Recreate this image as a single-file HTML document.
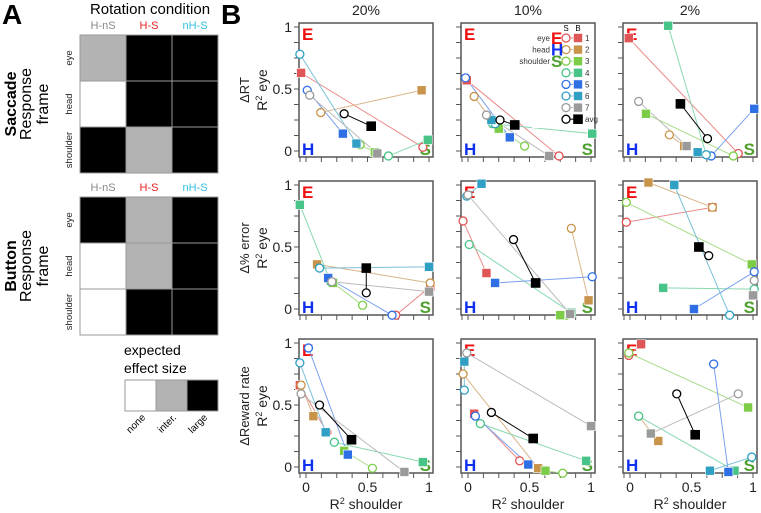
<!DOCTYPE html>
<html><head><meta charset="utf-8"><style>
html,body{margin:0;padding:0;background:#fff;}
svg{display:block;font-family:"Liberation Sans",Arial,sans-serif;}
</style></head><body>
<svg id="fig" width="761" height="513" viewBox="0 0 761 513">
<g>
<text x="2" y="24" font-size="28" font-weight="bold">A</text>
<text x="150" y="14" font-size="15" text-anchor="middle">Rotation condition</text>
<g id="gridA"></g>
<g>
<text x="124" y="355" font-size="14">expected</text>
<text x="124" y="373" font-size="14">effect size</text>
<rect x="125" y="380" width="31" height="31" fill="#fff" stroke="#999"/>
<rect x="156" y="380" width="31" height="31" fill="#b3b3b3" stroke="#999"/>
<rect x="187" y="380" width="31" height="31" fill="#000" stroke="#999"/>
<text transform="translate(146,418) rotate(-45)" font-size="10" text-anchor="end">none</text>
<text transform="translate(177,418) rotate(-45)" font-size="10" text-anchor="end">inter.</text>
<text transform="translate(208,418) rotate(-45)" font-size="10" text-anchor="end">large</text>
</g>
</g>
<g>
<text x="221" y="24" font-size="28" font-weight="bold">B</text>
<g id="plotsB"></g>
</g>
</svg>
<script>
// ---------- Panel A data ----------
const colHeaders = ["H-nS","H-S","nH-S"];
const rowHeaders = ["eye","head","shoulder"];
const saccadeEffect = [[1,2,2],[0,2,2],[2,1,2]];
const buttonEffect = [[2,1,2],[0,1,2],[0,2,2]];

// ---------- Panel B data (S = circle, B = square), subjects 1..7, avg ----------
const subjects = ["1","2","3","4","5","6","7","avg"];
const rt20_sx=[0.95,0.12,0.44,0.67,0.01,-0.05,0.03,0.31];
const rt20_sy=[0.03,0.31,0.05,-0.04,0.49,0.78,0.45,0.30];
const rt20_bx=[-0.04,0.94,0.56,0.99,0.30,0.41,0.58,0.53];
const rt20_by=[0.63,0.49,-0.01,0.09,0.14,0.06,-0.02,0.20];
const rt10_sx=[0.74,0.05,0.46,0.20,-0.02,0.22,0.15,0.26];
const rt10_sy=[-0.04,0.44,0.04,0.22,0.59,0.22,0.29,0.25];
const rt10_bx=[-0.01,0.21,0.25,1.01,0.34,0.19,0.66,0.38];
const rt10_by=[0.57,0.22,0.18,0.14,0.11,0.25,-0.04,0.21];
const rt2_sx=[0.88,0.32,0.84,0.62,0.66,0.62,0.07,0.63];
const rt2_sy=[-0.02,0.13,-0.04,-0.03,-0.04,-0.03,0.40,0.10];
const rt2_bx=[-0.01,0.44,0.13,0.31,1.01,0.55,0.46,0.41];
const rt2_by=[0.91,0.04,0.30,1.01,0.34,-0.01,0.04,0.38];
const er20_sx=[0.73,1.01,0.46,0.20,0.70,0.11,0.21,0.49];
const er20_sy=[-0.05,0.21,0.03,0.22,-0.05,0.33,0.22,0.13];
const er20_bx=[1.01,0.09,0.22,-0.05,0.18,1.00,1.00,0.49];
const er20_by=[0.18,0.36,0.21,0.84,0.25,0.34,0.14,0.33];
const er10_sx=[-0.04,0.84,0.80,0.01,1.01,-0.01,0.00,0.37];
const er10_sy=[0.71,0.65,-0.05,0.52,0.26,0.91,0.92,0.56];
const er10_bx=[0.15,0.98,0.75,0.84,0.22,0.11,0.83,0.55];
const er10_by=[0.29,0.07,-0.05,-0.03,0.21,1.01,-0.04,0.21];
const er2_sx=[-0.03,0.67,-0.03,1.01,1.01,0.81,1.01,0.64];
const er2_sy=[0.70,0.82,0.86,0.16,0.30,-0.05,0.23,0.43];
const er2_bx=[0.67,0.15,0.99,0.27,0.52,0.36,1.00,0.56];
const er2_by=[0.82,1.02,0.36,0.17,0.00,1.00,0.11,0.50];
const rw20_sx=[0.17,-0.04,0.54,0.23,0.02,-0.05,-0.04,0.11];
const rw20_sy=[0.28,0.66,-0.01,0.20,0.96,0.84,0.59,0.50];
const rw20_bx=[-0.05,0.06,0.31,0.95,0.34,0.16,0.80,0.37];
const rw20_by=[0.66,0.41,0.13,0.04,0.10,0.28,-0.04,0.22];
const rw10_sx=[0.42,-0.04,0.77,0.10,0.06,-0.03,-0.01,0.19];
const rw10_sy=[0.05,0.75,-0.05,0.35,0.41,0.62,0.92,0.44];
const rw10_bx=[0.05,0.57,0.63,0.96,0.49,-0.03,1.00,0.53];
const rw10_by=[0.43,-0.01,-0.03,0.05,0.02,0.85,0.33,0.23];
const rw2_sx=[-0.01,0.07,-0.01,0.07,0.68,0.99,0.88,0.38];
const rw2_sy=[0.90,0.41,0.92,0.41,0.83,0.08,0.59,0.59];
const rw2_bx=[0.09,0.23,0.96,0.85,0.80,0.65,0.17,0.53];
const rw2_by=[0.99,0.21,0.48,-0.03,-0.04,-0.03,0.27,0.26];

const colTitles = ["20%","10%","2%"];
const rowTitles = ["\u0394RT","\u0394% error","\u0394Reward rate"];
const xTickLabels = ["0","0.5","1"];
const yTickLabels = ["0","0.5","1"];
const xTickVals = [0,0.5,1];
const yTickVals = [0,0.5,1];

const NS="http://www.w3.org/2000/svg";
const colors=["#e05555","#c8944a","#7ccc48","#48c488","#2f6fe6","#2fa0c4","#9a9a9a","#000"];
const lineColors=["#ea8a8a","#d9b488","#a8dc88","#88d8b0","#7aa0ee","#7ac0d8","#bbbbbb","#000"];
function mk(tag,attrs,parent){const e=document.createElementNS(NS,tag);for(const k in attrs)e.setAttribute(k,attrs[k]);parent.appendChild(e);return e;}

// ---------- Panel A ----------
const gA=document.getElementById('gridA');
const fills=["#fff","#b3b3b3","#000"];
const hdrCol=["#888","#e82020","#30c0e0"];
function drawGrid(top,mat,tag){
  const cw=46, ch=46, left=80;
  for(let c=0;c<3;c++){
    const t=mk('text',{x:left+cw*c+cw/2,y:top-6,'font-size':11,'text-anchor':'middle',fill:hdrCol[c]},gA);
    t.textContent=colHeaders[c];
    
    
  }
  for(let r=0;r<3;r++){
    const t=mk('text',{transform:`translate(72,${top+ch*r+ch/2}) rotate(-90)`,'font-size':9.5,'text-anchor':'middle',fill:'#222'},gA);
    t.textContent=rowHeaders[r];
    
    
    for(let c=0;c<3;c++){
      const rc=mk('rect',{x:left+cw*c,y:top+ch*r,width:cw,height:ch,fill:fills[mat[r][c]],stroke:'#999','stroke-width':1},gA);
      
      
    }
  }
}
drawGrid(35,saccadeEffect,'saccade');
drawGrid(197,buttonEffect,'button');
function sideLabel(cy,bold,tag){
  const lines=[[bold,16,true],["Response",31,false],["frame",48,false]];
  lines.forEach((l,i)=>{
    const t=mk('text',{transform:`translate(${l[1]},${cy}) rotate(-90)`,'font-size':16,'text-anchor':'middle','font-weight':l[2]?'bold':'normal'},gA);
    t.textContent=l[0];
    
    
  });
}
sideLabel(104,"Saccade",'saccade');
sideLabel(266,"Button",'button');

// ---------- Panel B ----------
const gB=document.getElementById('plotsB');
const panels=[[ [rt20_sx,rt20_sy,rt20_bx,rt20_by],[rt10_sx,rt10_sy,rt10_bx,rt10_by],[rt2_sx,rt2_sy,rt2_bx,rt2_by] ],
              [ [er20_sx,er20_sy,er20_bx,er20_by],[er10_sx,er10_sy,er10_bx,er10_by],[er2_sx,er2_sy,er2_bx,er2_by] ],
              [ [rw20_sx,rw20_sy,rw20_bx,rw20_by],[rw10_sx,rw10_sy,rw10_bx,rw10_by],[rw2_sx,rw2_sy,rw2_bx,rw2_by] ]];
const lefts=[299,461,623], tops=[23,181,339], W=134, H=134;
function circle(g,x,y,col,name){const c=mk('circle',{cx:x,cy:y,r:4,fill:'#fff',stroke:col,'stroke-width':1.3},g);}
function square(g,x,y,col,name){const s=mk('rect',{x:x-4.5,y:y-4.5,width:9,height:9,fill:col,stroke:col==='#000'?'#000':'#fff','stroke-width':0.6},g);}

for(let r=0;r<3;r++){
  for(let c=0;c<3;c++){
    const L=lefts[c], T=tops[r];
    const sx=v=>L+7+v*123;
    const sy=v=>T+128-v*124;
    const g=mk('g',{},gB);
    
    
    const fr=mk('rect',{x:L,y:T,width:W,height:H,fill:'none',stroke:'#555','stroke-width':1.5},g);
    
    
    for(let k=0;k<=8;k++){
      const v=k*0.125;
      mk('line',{x1:L-5,x2:L,y1:sy(v),y2:sy(v),stroke:'#555','stroke-width':1},g);
      mk('line',{x1:sx(v),x2:sx(v),y1:T+H,y2:T+H+5,stroke:'#555','stroke-width':1},g);
    }
    mk('line',{x1:L+1,x2:L+1,y1:T+H,y2:T+H+5,stroke:'#555','stroke-width':1},g);
    if(c===0){
      yTickVals.forEach((v,i)=>{const t=mk('text',{x:L-7,y:sy(v)+5,'font-size':14,'text-anchor':'end',fill:'#222'},g);t.textContent=yTickLabels[i];});
      const t1=mk('text',{transform:`translate(249,${T+H/2}) rotate(-90)`,'font-size':13,'text-anchor':'middle',fill:'#222'},g);
      t1.textContent=rowTitles[r];
      const t2=mk('text',{transform:`translate(267,${T+H/2}) rotate(-90)`,'font-size':14,'text-anchor':'middle',fill:'#222'},g);
      t2.innerHTML='R<tspan dy="-5" font-size="9">2</tspan><tspan dy="5"> eye</tspan>';
      
    }
    if(r===0){const t=mk('text',{x:L+W/2,y:15,'font-size':14,'text-anchor':'middle',fill:'#222'},g);t.textContent=colTitles[c];}
    if(r===2){
      xTickVals.forEach((v,i)=>{const t=mk('text',{x:sx(v),y:T+H+19,'font-size':14,'text-anchor':'middle',fill:'#222'},g);t.textContent=xTickLabels[i];});
      const t=mk('text',{x:L+W/2,y:T+H+36,'font-size':14,'text-anchor':'middle',fill:'#222'},g);
      t.innerHTML='R<tspan dy="-5" font-size="9">2</tspan><tspan dy="5"> shoulder</tspan>';
      
    }
    const e=mk('text',{x:L+3,y:T+17,'font-size':17,'font-weight':'bold',fill:'#f01010'},g);e.textContent='E';
    const h=mk('text',{x:L+3,y:T+H-2,'font-size':17,'font-weight':'bold',fill:'#1030f0'},g);h.textContent='H';
    const s=mk('text',{x:L+W-2,y:T+H-2,'font-size':17,'font-weight':'bold',fill:'#50a030','text-anchor':'end'},g);s.textContent='S';
    const d=panels[r][c];
    for(let i=0;i<8;i++){
      const ln=mk('line',{x1:sx(d[0][i]),y1:sy(d[1][i]),x2:sx(d[2][i]),y2:sy(d[3][i]),stroke:lineColors[i],'stroke-width':1},g);
      
      
    }
    for(let i=0;i<8;i++){
      circle(g,sx(d[0][i]),sy(d[1][i]),colors[i],'saccade-point-subject-'+subjects[i]);
      square(g,sx(d[2][i]),sy(d[3][i]),colors[i],'button-point-subject-'+subjects[i]);
    }
  }
}
// legend in row1 col2
const lg=mk('g',{},gB);


const lgBg=mk('rect',{x:532,y:24,width:62,height:104,fill:'#fff'},lg);
mk('text',{x:566,y:31,'font-size':8,'text-anchor':'middle'},lg).textContent='S';
mk('text',{x:578,y:31,'font-size':8,'text-anchor':'middle'},lg).textContent='B';
const lgLabels=[["eye","E","#f01010"],["head","H","#1030f0"],["shoulder","S","#50a030"]];
for(let i=0;i<8;i++){
  const y=38+i*11.6;
  mk('line',{x1:566,x2:578,y1:y,y2:y,stroke:lineColors[i],'stroke-width':1},lg);
  circle(lg,566,y,colors[i],'legend-circle-'+subjects[i]);
  square(lg,578,y,colors[i],'legend-square-'+subjects[i]);
  const t=mk('text',{x:585,y:y+3,'font-size':8,fill:'#333'},lg);t.textContent=subjects[i];
  if(i<3){
    const a=mk('text',{x:550,y:y+3,'font-size':8,'text-anchor':'end',fill:'#333'},lg);a.textContent=lgLabels[i][0];
    const b=mk('text',{x:551,y:y+6,'font-size':17,'font-weight':'bold',fill:lgLabels[i][2]},lg);b.textContent=lgLabels[i][1];
  }
}
</script>
</body></html>
